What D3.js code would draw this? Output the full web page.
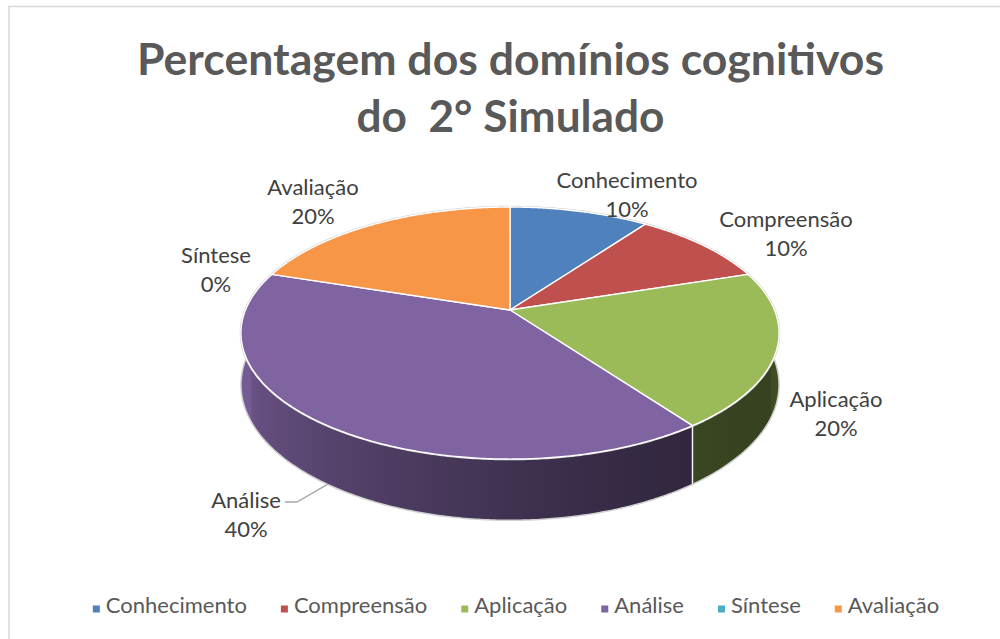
<!DOCTYPE html>
<html lang="pt">
<head>
<meta charset="UTF-8">
<title>Percentagem dos domínios cognitivos</title>
<script src="https://cdnjs.cloudflare.com/ajax/libs/d3/7.8.5/d3.min.js"></script>
<style>
    body { margin: 0; background: #fff; }
    svg { display: block; }
    text { font-family: Lato, "Liberation Sans", sans-serif; }
</style>
</head>
<body>
<div id="chart"></div>
<script>
// data
const categories = ["Conhecimento", "Compreensão", "Aplicação", "Análise", "Síntese", "Avaliação"];
const values = [10, 10, 20, 40, 0, 20];
const percentLabels = ["10%", "10%", "20%", "40%", "0%", "20%"];
const colors = ["#4f81bd", "#c0504d", "#9bbb59", "#8064a2", "#4bacc6", "#f79646"];
const titleLines = ["Percentagem dos domínios cognitivos", "do  2° Simulado"];

// layout
const W = 1000, H = 639;
const CX = 510, CY = 310;     // pie apex on screen
const K = 264.5, KS = 121.8;  // horizontal / vertical radius
const E = 0.183;              // perspective strength
const DEPTH = 50;             // thickness of the pie
// label anchors (centre x, first baseline)
const labelPos = [[627, 188], [786, 227], [836, 407], [246, 508], [216, 263], [313, 195]];

const svg = d3.select("#chart").append("svg")
    .attr("width", W)
    .attr("height", H);
const defs = svg.append("defs");

svg.append("rect")
    .attr("x", 9).attr("y", 6.5)
    .attr("width", 1100).attr("height", 700)
    .attr("fill", "#fff")
    .attr("stroke", "#d9d9d9")
    .attr("stroke-width", 1.5);

// project an angle of the pie (0 = 12 o'clock, clockwise) to the screen
function proj(theta, r = 1, dz = 0) {
    const p = 1 / (1 + E * r * Math.cos(theta));
    return [CX + K * r * Math.sin(theta) * p, CY - KS * r * Math.cos(theta) * p + dz * p];
}

function arcPoints(a0, a1, dz) {
    const pts = [];
    const n = Math.max(2, Math.ceil((a1 - a0) / 0.01));
    for (let i = 0; i <= n; i++) pts.push(proj(a0 + (a1 - a0) * i / n, 1, dz));
    return pts;
}

const arcs = d3.pie().sort(null).value(d => d)(values);
const line = d3.line();

// side shading, light from the upper left
function shade(color, theta) {
    const b = 0.646 + 0.292 * Math.cos(theta - 300 * Math.PI / 180);
    const c = d3.rgb(color);
    return d3.rgb(c.r * b, c.g * b, c.b * b).toString();
}

// front sides, one path per slice with a horizontal gradient
const sideG = svg.append("g");
const visA = 86 * Math.PI / 180, visB = 275 * Math.PI / 180;
arcs.forEach((a, i) => {
    const s = Math.max(a.startAngle, visA), e = Math.min(a.endAngle, visB);
    if (e <= s) return;
    const xa = proj(s)[0], xb = proj(e)[0];
    const grad = defs.append("linearGradient")
        .attr("id", "side" + i)
        .attr("gradientUnits", "userSpaceOnUse")
        .attr("x1", xa).attr("x2", xb)
        .attr("y1", 0).attr("y2", 0);
    const n = 12;
    d3.range(n + 1).forEach(k => {
        const t = s + (e - s) * k / n;
        const off = (proj(t)[0] - xa) / (xb - xa);
        grad.append("stop")
            .attr("offset", Math.max(0, Math.min(1, off)))
            .attr("stop-color", shade(colors[i], t));
    });
    const poly = arcPoints(s, e, 0).concat(arcPoints(s, e, DEPTH).reverse());
    sideG.append("path")
        .attr("d", line(poly) + "Z")
        .attr("fill", `url(#side${i})`);
});

// dividers on the side
arcs.forEach(a => {
    const t = a.startAngle;
    if (t > visA && t < visB && a.value > 0) {
        sideG.append("path")
            .attr("d", line([proj(t), proj(t, 1, DEPTH)]))
            .attr("stroke", "#f2f2f2")
            .attr("stroke-width", 1.5);
    }
});

// outlines of the whole pie
svg.append("path")
    .attr("d", line(arcPoints(visA, visB, DEPTH)))
    .attr("fill", "none")
    .attr("stroke", "#d0d0d0")
    .attr("stroke-width", 1.5);
svg.append("path")
    .attr("d", line(arcPoints(0, 2 * Math.PI, 0)) + "Z")
    .attr("fill", "none")
    .attr("stroke", "#d0d0d0")
    .attr("stroke-width", 2.5);

// top faces
svg.append("g").selectAll("path")
    .data(arcs.filter(a => a.value > 0))
    .join("path")
    .attr("d", a => line([[CX, CY]].concat(arcPoints(a.startAngle, a.endAngle, 0))) + "Z")
    .attr("fill", a => colors[a.index])
    .attr("stroke", "#fff")
    .attr("stroke-width", 1.4)
    .attr("stroke-linejoin", "round");

// title
svg.append("g").selectAll("text")
    .data(titleLines)
    .join("text")
    .attr("x", 510.5)
    .attr("y", (d, i) => 75 + i * 57)
    .attr("text-anchor", "middle")
    .attr("font-size", 44)
    .attr("font-weight", "bold")
    .attr("fill", "#595959")
    .style("white-space", "pre")
    .attr("textLength", (d, i) => [747, 308][i])
    .attr("lengthAdjust", "spacingAndGlyphs")
    .text(d => d);

// data labels
const labelG = svg.append("g");
categories.forEach((c, i) => {
    const t = labelG.append("text")
        .attr("text-anchor", "middle")
        .attr("font-size", 22)
        .attr("fill", "#404040");
    t.append("tspan").attr("x", labelPos[i][0]).attr("y", labelPos[i][1]).text(c);
    t.append("tspan").attr("x", labelPos[i][0]).attr("y", labelPos[i][1] + 29).text(percentLabels[i]);
});

// leader line for Análise
{
    const i = 3;
    const first = labelG.selectAll("text").nodes()[i].firstChild;
    const w = first.getComputedTextLength();
    const x0 = labelPos[i][0] + w / 2 + 4, y0 = labelPos[i][1] - 6;
    const end = proj((arcs[i].startAngle + arcs[i].endAngle) / 2, 1, DEPTH);
    svg.append("path")
        .attr("d", line([[x0, y0], [x0 + 12, y0], end]))
        .attr("fill", "none")
        .attr("stroke", "#a6a6a6")
        .attr("stroke-width", 1.3);
}

// legend
const legend = svg.append("g");
const items = legend.selectAll("g")
    .data(categories)
    .join("g");
items.append("rect")
    .attr("width", 7).attr("height", 7)
    .attr("y", -7.5)
    .attr("fill", (d, i) => colors[i]);
items.append("text")
    .attr("x", 13)
    .attr("font-size", 22)
    .attr("fill", "#595959")
    .text(d => d);
let xs = [], acc = 0;
items.each(function () {
    xs.push(acc);
    acc += 13 + d3.select(this).select("text").node().getComputedTextLength() + 34;
});
const totalW = acc - 34;
const startX = 516 - totalW / 2;
items.attr("transform", (d, i) => `translate(${startX + xs[i]},613)`);
</script>
</body>
</html>
